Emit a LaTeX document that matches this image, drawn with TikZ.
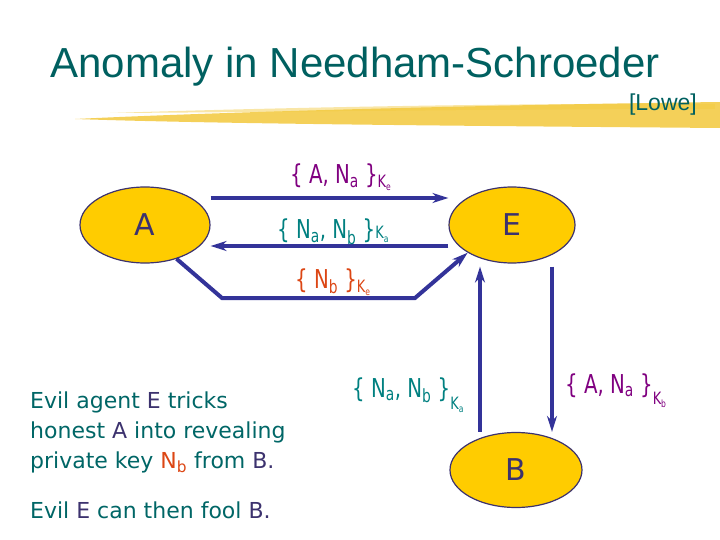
\documentclass[tikz,border=0pt]{standalone}
\usepackage{fontspec}
\setmainfont{DejaVu Sans}
\newfontfamily\titlefont{Liberation Sans}
\newfontfamily\labelfont[FakeStretch=0.76]{DejaVu Sans}
\usetikzlibrary{arrows.meta,shapes.geometric}

\definecolor{slidetitle}{RGB}{0,96,96}
\definecolor{agentfill}{RGB}{255,204,0}
\definecolor{agentline}{RGB}{60,50,110}
\definecolor{msgblue}{RGB}{51,51,153}
\definecolor{msgpurple}{RGB}{128,0,128}
\definecolor{msgteal}{RGB}{0,128,128}
\definecolor{msgred}{RGB}{220,70,20}
\definecolor{noteteal}{RGB}{0,102,102}
\definecolor{brushyellow}{RGB}{242,200,60}

\newcommand{\nonce}[1]{N\textsubscript{#1}}
\newcommand{\enckey}[2][4pt]{\raisebox{-#1}{\fontsize{17}{17}\selectfont K\raisebox{-3pt}{\fontsize{10}{10}\selectfont #2}}}

\begin{document}
\begin{tikzpicture}[
  agent/.style    = {ellipse, draw=agentline, line width=1.2pt, fill=agentfill, minimum width=130pt, minimum height=76pt, inner sep=0pt, text=agentline, font=\fontsize{30}{32}\selectfont},
  msg/.style      = {-{Stealth[length=16pt,width=10pt]}, line width=4pt, draw=msgblue},
  msglabel/.style = {anchor=base west, inner sep=0pt, font=\labelfont\fontsize{26}{28}\selectfont},
  noteline/.style = {anchor=base west, inner sep=0pt, text=noteteal, font=\fontsize{22}{24}\selectfont},
  brush/.style    = {fill=brushyellow, draw=none},
  x=1pt, y=-1pt,
]
  \useasboundingbox (0,0) rectangle (720,540);

  % heading
  \fill[brush, opacity=0.85] (75,119) .. controls (220,112) and (480,105) .. (720,102)
    -- (720,128) .. controls (480,126) and (220,124) .. (75,119) -- cycle;
  \fill[brush, opacity=0.45] (110,113) .. controls (300,107) and (520,103) .. (715,104)
    -- (715,109) .. controls (520,109) and (300,112) .. (110,113) -- cycle;
  \node[anchor=base, inner sep=0pt, text=slidetitle, font=\titlefont\fontsize{42}{44}\selectfont] (title) at (355,78) {Anomaly in Needham-Schroeder};
  \node[anchor=base east, inner sep=0pt, text=slidetitle, font=\titlefont\fontsize{23}{25}\selectfont] (cite) at (697,111) {[Lowe]};

  % agents
  \node[agent] (A) at (145,225) {A};
  \node[agent, minimum width=126pt] (E) at (512,225) {E};
  \node[agent, minimum width=132pt, minimum height=75pt] (B) at (516,470) {B};

  % messages
  \draw[msg] ([yshift=27pt]A.east) -- ([yshift=27pt]E.west);
  \draw[msg] ([yshift=-21pt]E.west) -- ([yshift=-21pt]A.east);
  \draw[msg] (A.-47) -- (222,298) -- (415,298) -- (E.-148);
  \draw[msg] ([xshift=-36pt]B.north) -- ([xshift=-32pt,yshift=-3pt]E.south);
  \draw[msg] ([xshift=40pt,yshift=-3pt]E.south) -- ([xshift=36pt]B.north);

  \node[msglabel, text=msgpurple] (m1) at (290,184) {\{ A, \nonce{a} \}\enckey{e}};
  \node[msglabel, text=msgteal]   (m2) at (277,239) {\{ \nonce{a}, \nonce{b} \}\enckey[0pt]{a}};
  \node[msglabel, text=msgred]    (m3) at (295,288) {\{ \nonce{b} \}\enckey{e}};
  \node[msglabel, text=msgteal]   (m4) at (352,397) {\{ \nonce{a}, \nonce{b} \}\enckey[12pt]{a}};
  \node[msglabel, text=msgpurple] (m5) at (565,393) {\{ A, \nonce{a} \}\enckey[11pt]{b}};

  % explanation
  \node[noteline] (l1) at (30,408) {Evil agent \textcolor{agentline}{E} tricks};
  \node[noteline] (l2) at (30,438) {honest \textcolor{agentline}{A} into revealing};
  \node[noteline] (l3) at (30,468) {private key \textcolor{msgred}{\nonce{b}} from \textcolor{agentline}{B.}};
  \node[noteline] (l4) at (30,518) {Evil \textcolor{agentline}{E} can then fool \textcolor{agentline}{B.}};
\end{tikzpicture}
\end{document}
